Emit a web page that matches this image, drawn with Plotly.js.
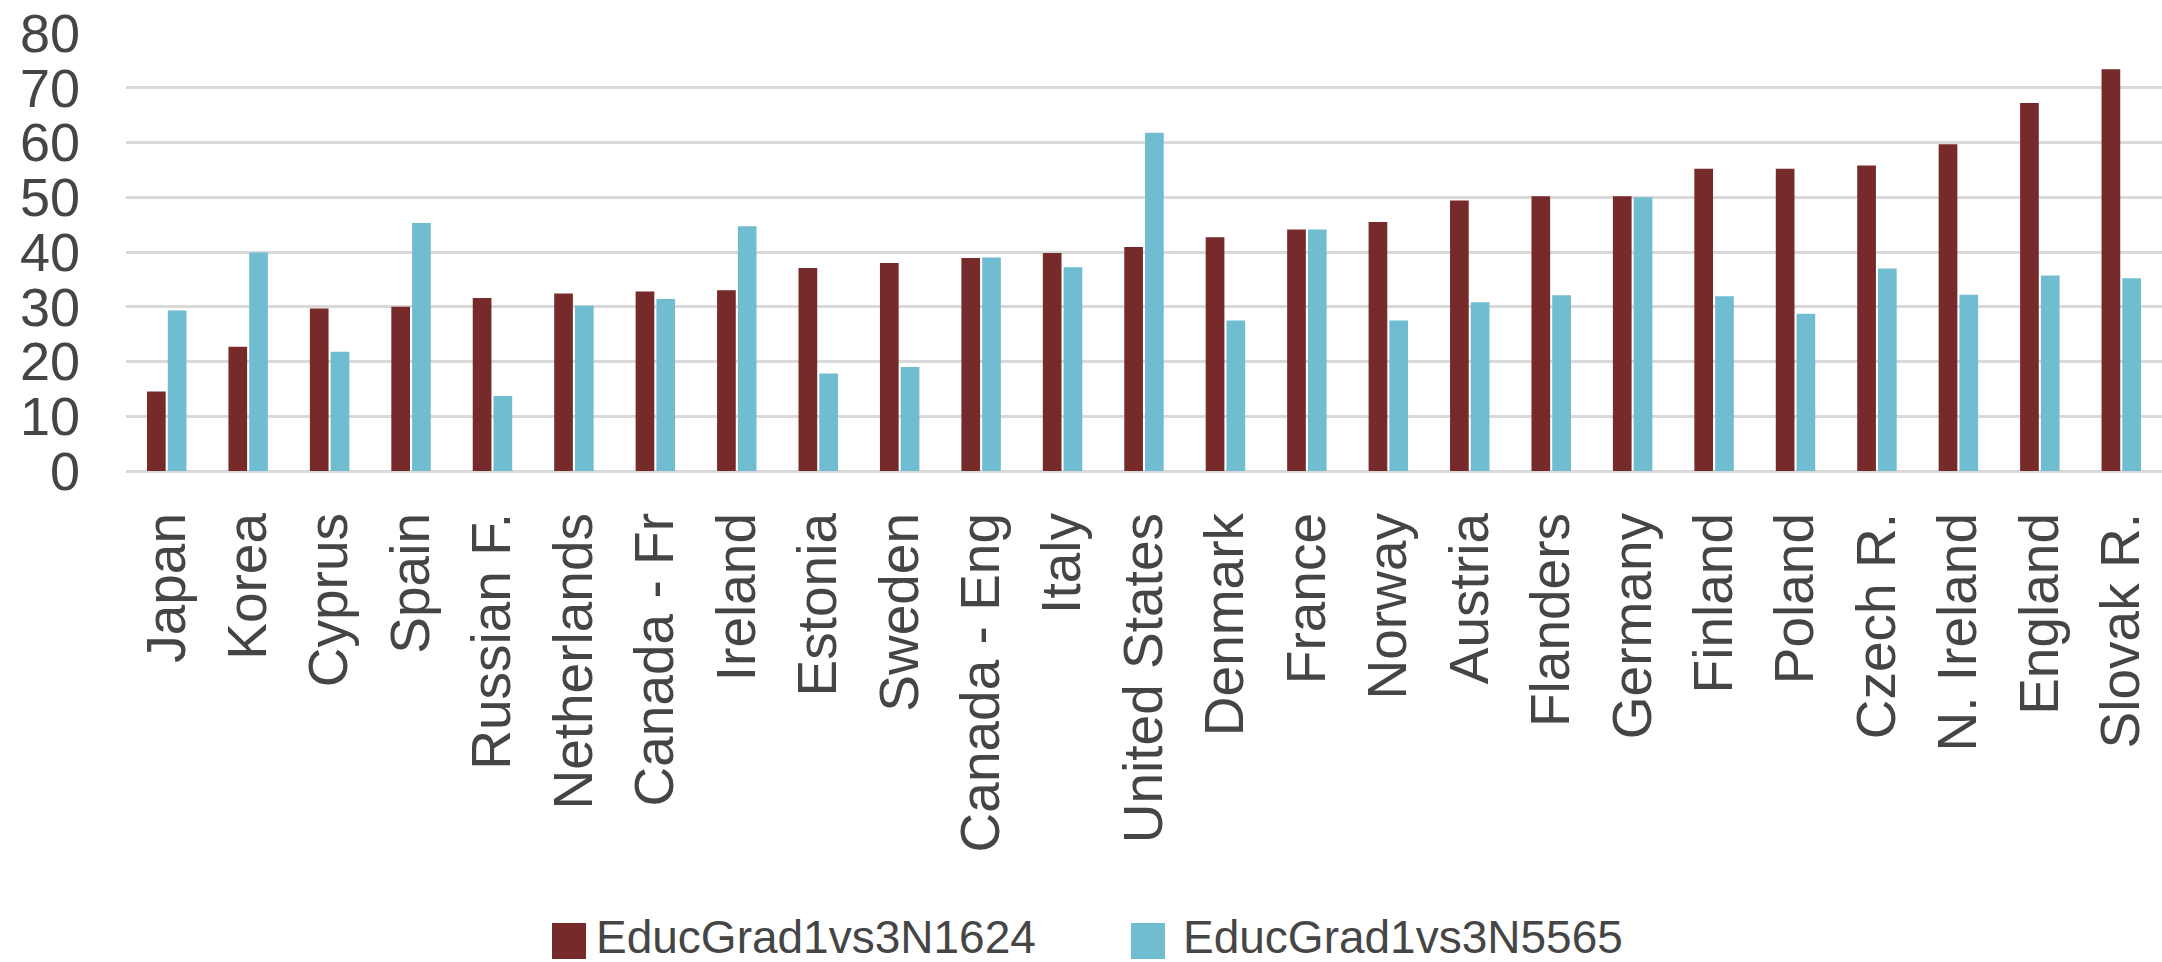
<!DOCTYPE html>
<html>
<head>
<meta charset="utf-8">
<script src="https://cdn.plot.ly/plotly-3.0.1.min.js"></script>
<style>html,body{margin:0;padding:0;background:#fff;}#chart{width:2162px;height:962px;}</style>
</head>
<body>
<div id="chart"></div>
<script>
const categories = ["Japan","Korea","Cyprus","Spain","Russian F.","Netherlands","Canada - Fr","Ireland","Estonia","Sweden","Canada - Eng","Italy","United States","Denmark","France","Norway","Austria","Flanders","Germany","Finland","Poland","Czech R.","N. Ireland","England","Slovak R."];
const seriesNames = ["EducGrad1vs3N1624","EducGrad1vs3N5565"];
const valuesN1624 = [14.5,22.7,29.7,30.0,31.6,32.4,32.8,33.0,37.1,38.0,38.9,39.8,40.9,42.7,44.1,45.5,49.4,50.2,50.2,55.2,55.2,55.8,59.7,67.2,73.4];
const valuesN5565 = [29.3,39.9,21.8,45.3,13.7,30.2,31.4,44.7,17.8,19.0,39.0,37.2,61.8,27.5,44.1,27.5,30.8,32.1,50.0,31.9,28.7,37.0,32.2,35.7,35.2];
const yTicks = [0,10,20,30,40,50,60,70,80];

const colors = ["#772a2a","#70bcd0"];
const textColor = "#454545";
const fontMain = "Liberation Sans, Arial, sans-serif";

const traces = [
  {type:"bar", name:seriesNames[0], x:categories, y:valuesN1624, marker:{color:colors[0]}, showlegend:false, hoverinfo:"x+y+name"},
  {type:"bar", name:seriesNames[1], x:categories, y:valuesN5565, marker:{color:colors[1]}, showlegend:false, hoverinfo:"x+y+name"}
];

// custom legend (large square keys as in the reference)
const W = 2162, H = 962, ml = 126, mr = 0, mt = 33, mb = 491;
const pw = W - ml - mr, ph = H - mt - mb;
const px = v => (v - ml) / pw;
const py = v => (H - mb - v) / ph;
const legendItems = [
  {x0:552, x1:586, tx:594},
  {x0:1131, x1:1165, tx:1181}
];
const shapes = [], annotations = [];
legendItems.forEach((it, i) => {
  shapes.push({type:"rect", xref:"paper", yref:"paper", x0:px(it.x0), x1:px(it.x1), y0:py(959), y1:py(923), fillcolor:colors[i], line:{width:0}});
  annotations.push({xref:"paper", yref:"paper", x:px(it.tx), y:py(937), xanchor:"left", yanchor:"middle", showarrow:false, text:seriesNames[i], font:{family:fontMain, size:46, color:textColor}});
});

const layout = {
  width:W, height:H,
  margin:{l:ml, r:mr, t:mt, b:mb, pad:0},
  paper_bgcolor:"#ffffff", plot_bgcolor:"#ffffff",
  barmode:"group", bargap:0.49, bargroupgap:0.1,
  showlegend:false,
  xaxis:{type:"category", tickangle:-90, tickfont:{family:fontMain, size:55, color:textColor}, showgrid:false, zeroline:false, showline:false, ticks:"", ticklabelstandoff:30, automargin:false},
  yaxis:{range:[0,80], tickvals:yTicks, ticktext:yTicks.map(String), tickfont:{family:fontMain, size:54, color:textColor}, showgrid:true, gridcolor:"#d9d9d9", gridwidth:3, zeroline:true, zerolinecolor:"#d9d9d9", zerolinewidth:3, showline:false, ticks:"", ticklabelstandoff:45, automargin:false},
  shapes:shapes, annotations:annotations
};
Plotly.newPlot("chart", traces, layout, {displayModeBar:false, staticPlot:true});
</script>
</body>
</html>
